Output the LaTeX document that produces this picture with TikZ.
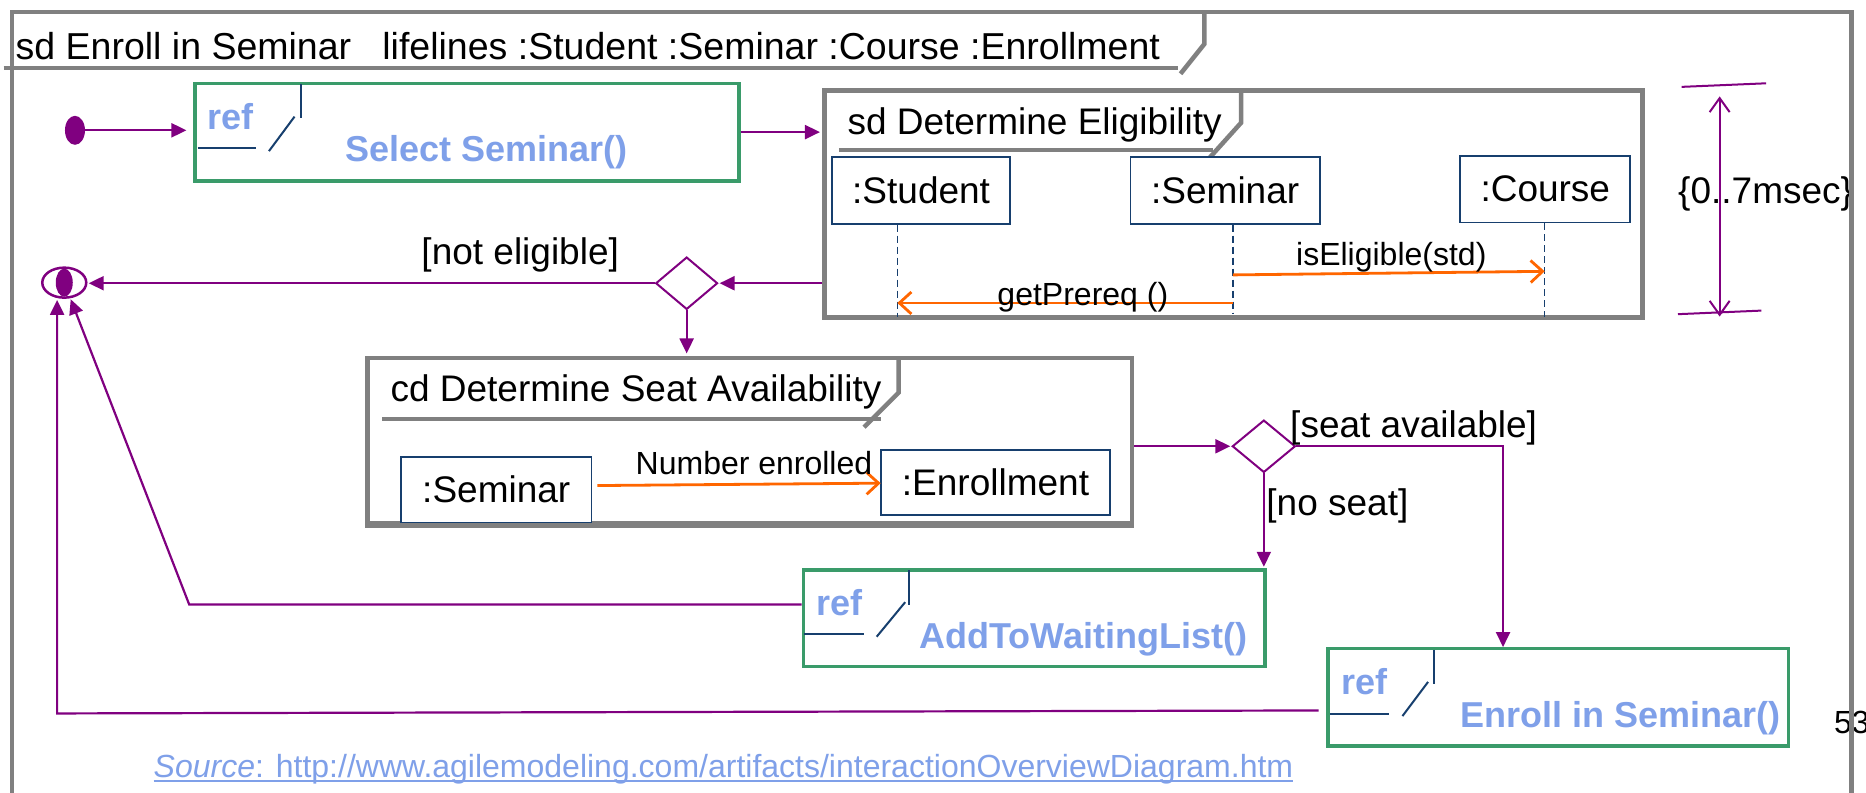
\documentclass[tikz,border=0pt]{standalone}
\usepackage{fontspec}
\setmainfont{Liberation Sans}
\usetikzlibrary{arrows.meta,shapes.geometric}
\definecolor{fgray}{RGB}{128,128,128}
\definecolor{fpurple}{RGB}{128,0,128}
\definecolor{fgreen}{RGB}{58,155,106}
\definecolor{flblue}{RGB}{127,160,233}
\definecolor{fnavy}{RGB}{23,63,110}
\definecolor{forange}{RGB}{255,102,0}
\newcommand{\FntBig}{\fontsize{37}{44}\selectfont}
\newcommand{\FntRef}{\fontsize{36}{43}\selectfont\bfseries}
\newcommand{\FntSmall}{\fontsize{32}{38}\selectfont}
\begin{document}
\begin{tikzpicture}[x=1.19pt,y=-1.19pt,
  grayframe/.style={draw=fgray,line width=4.5pt},
  frm/.style={rectangle,inner sep=0pt},
  refbox/.style={draw=fgreen,line width=3.5pt,rectangle,inner sep=0pt},
  lifebox/.style={draw=fnavy,line width=1.8pt,fill=white,rectangle,inner sep=0pt,font=\FntBig},
  flow/.style={draw=fpurple,line width=2.2pt,-{Triangle[length=15pt,width=14pt]}},
  msg/.style={draw=forange,line width=2.8pt,-{Straight Barb[length=12pt,width=22pt,line width=2.8pt]}},
  decision/.style={diamond,draw=fpurple,line width=2pt,fill=white,inner sep=0pt},
  reflines/.style={draw=fnavy,line width=2pt},
  lifeline/.style={draw=fnavy,line width=1.5pt,dash pattern=on 7pt off 4pt},
  txt/.style={anchor=base west,inner sep=0pt,font=\FntBig},
  stxt/.style={anchor=base west,inner sep=0pt,font=\FntSmall},
  rtxt/.style={anchor=base west,inner sep=0pt,font=\FntRef,text=flblue},
  timeline/.style={draw=fpurple,line width=2pt}
]
\useasboundingbox (0,0) rectangle (1568,666);
\fill[white] (0,0) rectangle (1568,666);

% ---------- sd Determine Eligibility ----------
\node[frm,grayframe,minimum width=687*1.19pt,minimum height=191*1.19pt] (det) at (1036.5,171.5) {};
\draw[grayframe] (705,126) -- (1019,126);
\draw[grayframe] (1043,76) -- (1043,103) -- (1016,133);
\node[txt] (detT) at (712,113) {sd Determine Eligibility};
\node[lifebox,minimum width=150*1.19pt,minimum height=56*1.19pt] (stu) at (774,160) {:Student};
\node[lifebox,minimum width=159*1.19pt,minimum height=56*1.19pt] (sem) at (1029.5,160) {:Seminar};
\node[lifebox,minimum width=143*1.19pt,minimum height=56*1.19pt] (cou) at (1298.5,159) {:Course};
\coordinate (lstu) at (754,266);
\coordinate (lsem) at (1036,263);
\coordinate (lcou) at (1298,266);
\draw[lifeline] (stu.south -| lstu) -- (lstu);
\draw[lifeline] (sem.south -| lsem) -- (lsem);
\draw[lifeline] (cou.south -| lcou) -- (lcou);
\coordinate (m1a) at (1036,231);
\coordinate (m1b) at (1298,228);
\draw[msg] (m1a) -- (m1b);
\node[stxt] (m1T) at (1089,223) {isEligible(std)};
\coordinate (m2a) at (1036,254.6);
\coordinate (m2b) at (754,254.6);
\draw[msg] (m2a) -- (m2b);
\node[stxt] (m2T) at (838,257) {getPrereq ()};

% ---------- time constraint ----------
\coordinate (t1a) at (1413,73);
\coordinate (t1b) at (1484,70);
\coordinate (t2a) at (1410,264);
\coordinate (t2b) at (1480,261);
\draw[timeline] (t1a) -- (t1b);
\draw[timeline] (t2a) -- (t2b);
\coordinate (ta) at (1445,81);
\coordinate (tb) at (1445,266);
\draw[timeline,{Straight Barb[length=14pt,width=20pt,line width=2pt]}-{Straight Barb[length=14pt,width=20pt,line width=2pt]}] (ta) -- (tb);
\node[txt] (tT) at (1410,171) {\{0..7msec\}};

% ---------- Select Seminar ----------
\node[refbox,minimum width=457*1.19pt,minimum height=82*1.19pt] (sel) at (392.5,111) {};
\draw[reflines] (253,71) -- (253,99);
\draw[reflines] (247.5,98) -- (226,127);
\draw[reflines] (166,124.6) -- (215,124.6);
\node[rtxt] (selR) at (174,109) {ref};
\node[rtxt] (selT) at (290,136) {Select Seminar()};

\node[ellipse,fill=fpurple,minimum width=20pt,minimum height=29pt,inner sep=0pt] (init) at (63,109.5) {};
\draw[flow,shorten >=7pt] (init) -- (sel.west |- init);
\draw[flow,shorten >=2.5pt] (sel.east) -- (sel.east -| det.west);

% ---------- first decision and final node ----------
\node[decision,minimum width=52*1.19pt,minimum height=44*1.19pt] (d1) at (577,238) {};
\node[ellipse,draw=fpurple,line width=2.5pt,minimum width=44pt,minimum height=30pt,inner sep=0pt] (fin) at (54,237.5) {};
\node[ellipse,fill=fpurple,minimum width=17pt,minimum height=28pt,inner sep=0pt] (finc) at (fin) {};
\draw[flow,shorten >=1pt] (det.west |- d1) -- (d1.east);
\draw[flow,shorten >=1.2pt] (d1.west) -- (d1.west -| fin.east);
\node[txt] (neT) at (354,222) {[not eligible]};

% ---------- cd Determine Seat Availability ----------
\node[frm,grayframe,minimum width=642*1.19pt,minimum height=139*1.19pt] (cd) at (630,370.5) {};
\draw[grayframe] (321,352) -- (740,352);
\draw[grayframe] (755,301) -- (755,330) -- (726,359);
\node[txt] (cdT) at (328,337) {cd Determine Seat Availability};
\draw[flow,shorten >=2.5pt] (d1.south) -- (d1.south |- cd.north);
\node[lifebox,minimum width=160*1.19pt,minimum height=55*1.19pt] (csem) at (417,411.5) {:Seminar};
\node[lifebox,minimum width=193*1.19pt,minimum height=55*1.19pt] (cenr) at (836.5,405.5) {:Enrollment};
\draw[grayframe] (cd.south west) -- (cd.south east);
\coordinate (ne1) at (502,408);
\coordinate (ne2) at (740,406);
\draw[msg] (ne1) -- (ne2);
\node[stxt] (nbT) at (534,399) {Number enrolled};

% ---------- second decision ----------
\node[decision,minimum width=53*1.19pt,minimum height=44*1.19pt] (d2) at (1062,375) {};
\draw[flow,shorten >=1pt] (cd.east |- d2) -- (d2.west);
\node[txt] (saT) at (1084,368) {[seat available]};
\node[txt] (nsT) at (1064,433) {[no seat]};

% ---------- AddToWaitingList ----------
\node[refbox,minimum width=388*1.19pt,minimum height=81*1.19pt] (wait) at (869,519.5) {};
\draw[reflines] (764,479) -- (764,508);
\draw[reflines] (760.6,506) -- (736.7,535);
\draw[reflines] (676,533) -- (726,533);
\node[rtxt] (waitR) at (686,517.6) {ref};
\node[rtxt] (waitT) at (772.5,545) {AddToWaitingList()};
\draw[flow,shorten >=1.5pt] (d2.south) -- (d2.south |- wait.north);

% ---------- Enroll in Seminar ----------
\node[refbox,minimum width=387*1.19pt,minimum height=82*1.19pt] (en) at (1309.5,586) {};
\draw[reflines] (1205,546) -- (1205,575);
\draw[reflines] (1200,573) -- (1178.5,601.7);
\draw[reflines] (1118,600) -- (1167,600);
\node[rtxt] (enR) at (1127,584) {ref};
\node[rtxt] (enT) at (1227,611) {Enroll in Seminar()};
\coordinate (enin) at (1263,545);
\draw[flow,shorten >=1.5pt] (d2.east) -| (enin);

% ---------- returns to final node ----------
\coordinate (wbend) at (159,508);
\draw[flow,shorten >=1pt] (wait.west |- wbend) -- (wbend) -- (fin);
\coordinate (enout) at (1108,597);
\coordinate (ebend) at (48,599.5);
\draw[flow,shorten >=1pt] (enout) -- (ebend) -- (ebend |- fin.south);

% ---------- source and page number ----------
\node[anchor=base west,inner sep=0pt,font=\FntSmall,text=flblue] (src) at (129,653) {\textit{Source}: http://www.agilemodeling.com/artifacts/interactionOverviewDiagram.htm};
\draw[flblue,line width=1.5pt] ([yshift=-4pt]src.base west) -- ([yshift=-4pt]src.base east);
\node[stxt] (pg) at (1541,616) {53};

% ---------- outer frame ----------
\draw[grayframe] (10,680) -- (10,10) -- (1556,10) -- (1556,680);
\draw[grayframe] (3,57) -- (990,57);
\draw[grayframe] (1012,10) -- (1012,37) -- (992,62);
\node[txt,font=\fontsize{37.5}{45}\selectfont] (hdr) at (13,50) {sd Enroll in Seminar~~~lifelines :Student :Seminar :Course :Enrollment};
\end{tikzpicture}
\end{document}
